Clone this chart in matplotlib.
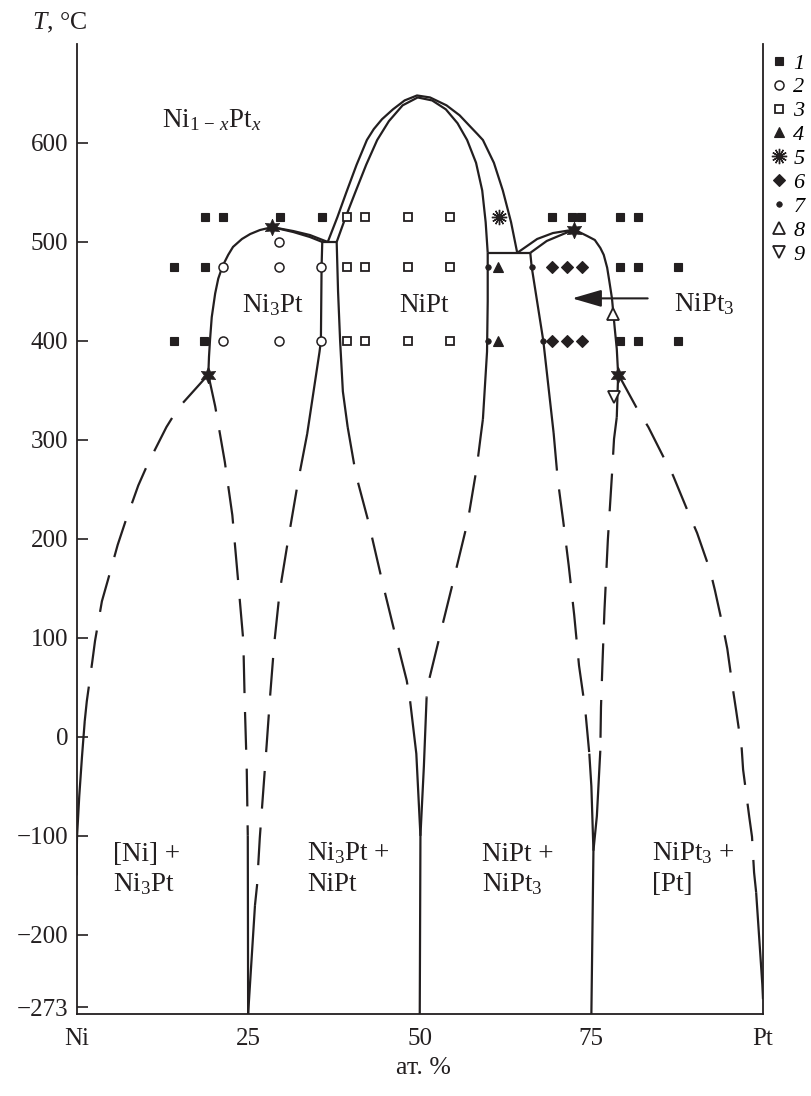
import matplotlib
matplotlib.use('Agg')
import matplotlib.pyplot as plt

plt.rcParams['font.family'] = ['Liberation Serif', 'DejaVu Serif']
plt.rcParams['mathtext.fontset'] = 'custom'
plt.rcParams['mathtext.rm'] = 'Liberation Serif'
plt.rcParams['mathtext.it'] = 'Liberation Serif:italic'
plt.rcParams['mathtext.bf'] = 'Liberation Serif:bold'

INK = '#231f20'
T_MIN, T_MAX = -280, 700

# ---- phase boundaries: x = at.% Pt, T = deg C ----
# Ni3Pt dome
ni3pt_left_x = [19.2, 19.3, 19.45, 19.7, 20.2, 20.65, 21.3, 22.1, 22.8, 24.1,
                25.3, 26.7, 28.5]
ni3pt_left_t = [366, 384, 401, 424, 448, 463, 476, 487, 495, 503,
                508, 512, 515]
ni3pt_top_up_x = [28.5, 31.6, 34.0, 36.6]
ni3pt_top_up_t = [515, 511, 507, 500]
ni3pt_top_lo_x = [28.5, 31.6, 34.0, 35.8]
ni3pt_top_lo_t = [515, 510, 505, 500]
tie_left_x = [35.8, 37.9]
tie_left_t = [500, 500]

# NiPt dome (outer and inner line)
nipt_outer_x = [36.6, 38.0, 39.3, 40.8, 42.3, 43.3, 44.5, 46.1, 47.8, 49.6,
                51.5, 53.9, 55.8, 57.3, 58.4, 59.2, 60.8, 62.1, 63.3, 64.2]
nipt_outer_t = [500, 525, 550, 578, 603, 614, 624, 634, 643, 648,
                646, 638, 628, 617, 609, 603, 580, 552, 520, 489]
nipt_inner_x = [37.9, 39.2, 40.6, 42.2, 43.8, 45.5, 47.5, 49.7, 51.8, 53.8,
                55.5, 56.9, 58.2, 59.1, 59.6, 59.9]
nipt_inner_t = [500, 525, 550, 578, 603, 622, 638, 646, 643, 634,
                620, 603, 580, 552, 520, 489]
tie_right_x = [59.9, 66.1]
tie_right_t = [489, 489]

# NiPt3 dome
nipt3_top_up_x = [64.2, 67.1, 69.4, 72.5]
nipt3_top_up_t = [489, 503, 509, 512.5]
nipt3_top_lo_x = [66.1, 68.5, 70.9, 72.5]
nipt3_top_lo_t = [489, 501, 508, 512.5]
nipt3_right_x = [72.5, 74.4, 75.5, 76.3, 76.8, 77.3, 77.6, 78.0, 78.4, 78.7,
                 78.9, 78.7]
nipt3_right_t = [512.5, 506, 502, 494, 487, 474, 461, 443, 413, 392,
                 366, 323]

# boundaries going down to -273 (solid top / dashed middle / solid bottom)
a_dash_x = [19.2, 14.8, 13.1, 10.4, 9.0, 7.1, 6.0, 4.6, 3.7, 2.7, 2.3, 1.5, 1.2]
a_dash_t = [366, 332, 313, 276, 254, 217, 194, 159, 137, 97, 76, 36, 16]
a_low_x = [1.2, 0.8, 0.4, 0.07, 0.0]
a_low_t = [16, -20, -60, -102, -140]

b_dash_x = [19.2, 20.2, 21.6, 22.7, 23.5, 24.3, 24.5, 24.8, 24.95]
b_dash_t = [366, 334, 278, 224, 161, 97, 36, -33, -100]
b_low_x = [24.95, 25.0]
b_low_t = [-100, T_MIN]

c_top_x = [35.8, 35.7, 35.6, 35.4, 33.6]
c_top_t = [500, 475, 400, 389, 306]
c_dash_x = [33.6, 32.3, 30.8, 29.6, 28.8, 28.2, 27.7, 27.2, 26.7, 26.3, 26.0]
c_dash_t = [306, 259, 198, 147, 94, 41, -8, -55, -102, -150, -170]
c_low_x = [26.0, 25.5, 25.0]
c_low_t = [-170, -225, T_MIN]

d_top_x = [37.9, 38.1, 38.4, 38.8, 39.5]
d_top_t = [500, 450, 400, 349, 313]
d_dash_x = [39.5, 40.7, 42.5, 44.6, 46.4, 48.1, 48.6]
d_dash_t = [313, 265, 218, 155, 104, 57, 36]
d_low_x = [48.6, 49.5, 50.1]
d_low_t = [36, -17, -100]

e_top_x = [59.9, 59.9, 59.8, 59.2]
e_top_t = [489, 440, 389, 321]
e_dash_x = [59.2, 58.9, 58.3, 57.0, 54.8, 53.2, 51.3, 51.0]
e_dash_t = [321, 305, 272, 218, 155, 110, 56, 40]
e_low_x = [51.0, 50.6, 50.1, 50.0]
e_low_t = [40, -30, -100, T_MIN]

f_top_x = [66.1, 66.3, 68.0, 69.5]
f_top_t = [489, 475, 400, 307]
f_dash_x = [69.5, 70.1, 70.9, 71.7, 72.5, 73.2, 74.1, 74.7]
f_dash_t = [307, 260, 218, 173, 123, 72, 28, -17]
f_low_x = [74.7, 75.0, 75.3, 75.0]
f_low_t = [-17, -50, -115, T_MIN]

g_dash_x = [78.7, 78.3, 78.0, 77.4, 76.9, 76.6, 76.4, 76.3]
g_dash_t = [323, 301, 265, 199, 127, 71, 30, -14]
g_low_x = [76.3, 75.8, 75.3]
g_low_t = [-14, -80, -115]

h_dash_x = [78.9, 79.5, 81.7, 83.3, 85.7, 86.9, 89.1, 90.4, 92.3, 93.0,
            94.2, 94.8, 95.6, 96.1, 96.9, 97.1, 98.0, 98.4, 98.7, 99.0]
h_dash_t = [366, 359, 331, 313, 280, 264, 227, 206, 168, 148,
            110, 89, 49, 26, -12, -33, -81, -101, -137, -157]
h_low_x = [99.0, 99.9, 100.0]
h_low_t = [-157, -250, -265]

# special points on the curves
star_x = [19.2, 28.5, 72.5, 78.9]
star_t = [366, 515, 512.5, 366]

# ---- experimental points, series 1..9 ----
p1_x = [18.7, 21.3, 29.6, 35.8, 69.3, 72.2, 73.5, 79.2, 81.8,
        14.2, 18.7, 79.2, 81.8, 87.6,
        14.2, 18.6, 79.2, 81.8, 87.6]
p1_t = [525] * 9 + [475] * 5 + [400] * 5
p2_x = [21.3, 29.5, 29.5, 35.6, 21.3, 29.5, 35.6]
p2_t = [475, 500, 475, 475, 400, 400, 400]
p3_x = [39.4, 42.0, 48.3, 54.4] * 3
p3_t = [525] * 4 + [475] * 4 + [400] * 4
p4_x = [61.4, 61.4]
p4_t = [475, 400]
p5_x = [61.5]
p5_t = [525]
p6_x = [69.3, 71.5, 73.6, 69.3, 71.5, 73.6]
p6_t = [475] * 3 + [400] * 3
p7_x = [59.9, 66.3, 59.9, 67.9]
p7_t = [475, 475, 400, 400]
p8_x = [78.2]
p8_t = [427]
p9_x = [78.3]
p9_t = [343]

series_labels = ['1', '2', '3', '4', '5', '6', '7', '8', '9']
t_ticks = [600, 500, 400, 300, 200, 100, 0, -100, -200, -273]
x_ticks = [0, 25, 50, 75, 100]
x_tick_labels = ['Ni', '25', '50', '75', 'Pt']


def main():
    fig = plt.figure(figsize=(8.11, 10.96), dpi=100)
    W, H = 811, 1096
    ax = fig.add_axes([76.5 / W, (H - 1014) / H, (763 - 76.5) / W, (1014 - 44) / H])
    ax.set_xlim(0, 100)
    ax.set_ylim(T_MIN, T_MAX)

    solid = dict(color=INK, lw=1.6, solid_capstyle='butt', solid_joinstyle='round',
                 zorder=2)
    dashed = dict(color=INK, lw=1.6, ls=(0, (17, 8.5)), dash_capstyle='butt', zorder=2)

    for xs, ts in [(ni3pt_left_x, ni3pt_left_t), (ni3pt_top_up_x, ni3pt_top_up_t),
                   (ni3pt_top_lo_x, ni3pt_top_lo_t), (tie_left_x, tie_left_t),
                   (nipt_outer_x, nipt_outer_t), (nipt_inner_x, nipt_inner_t),
                   (tie_right_x, tie_right_t), (nipt3_top_up_x, nipt3_top_up_t),
                   (nipt3_top_lo_x, nipt3_top_lo_t), (nipt3_right_x, nipt3_right_t),
                   (a_low_x, a_low_t), (b_low_x, b_low_t),
                   (c_top_x, c_top_t), (c_low_x, c_low_t),
                   (d_top_x, d_top_t), (d_low_x, d_low_t),
                   (e_top_x, e_top_t), (e_low_x, e_low_t),
                   (f_top_x, f_top_t), (f_low_x, f_low_t),
                   (g_low_x, g_low_t), (h_low_x, h_low_t)]:
        ax.plot(xs, ts, **solid)
    for xs, ts in [(a_dash_x, a_dash_t), (b_dash_x, b_dash_t), (c_dash_x, c_dash_t),
                   (d_dash_x, d_dash_t), (e_dash_x, e_dash_t), (f_dash_x, f_dash_t),
                   (g_dash_x, g_dash_t), (h_dash_x, h_dash_t)]:
        ax.plot(xs, ts, **dashed)

    ax.plot(star_x, star_t, ls='none', marker=(6, 1, 0), ms=12, mfc=INK, mec=INK,
            mew=0.5, zorder=4)

    # experimental points
    styles = [
        dict(marker='s', ms=5.5, mfc=INK, mec=INK, mew=0.8),
        dict(marker='o', ms=6.5, mfc='white', mec=INK, mew=1.1),
        dict(marker='s', ms=5.5, mfc='white', mec=INK, mew=1.3),
        dict(marker='^', ms=7.5, mfc=INK, mec=INK, mew=0.8),
        dict(marker=(12, 2, 0), ms=11, mfc=INK, mec=INK, mew=1.0),
        dict(marker='D', ms=6.5, mfc=INK, mec=INK, mew=0.8),
        dict(marker='o', ms=4, mfc=INK, mec=INK, mew=0.5),
        dict(marker='^', ms=8, mfc='white', mec=INK, mew=1.3),
        dict(marker='v', ms=8, mfc='white', mec=INK, mew=1.3),
    ]
    points = [(p1_x, p1_t), (p2_x, p2_t), (p3_x, p3_t), (p4_x, p4_t), (p5_x, p5_t),
              (p6_x, p6_t), (p7_x, p7_t), (p8_x, p8_t), (p9_x, p9_t)]
    handles = []
    for (xs, ts), st in zip(points, styles):
        h, = ax.plot(xs, ts, ls='none', zorder=5, **st)
        handles.append(h)

    ax.legend(handles, series_labels, loc='upper left',
              bbox_to_anchor=(771 / W, 1 - 53 / H), bbox_transform=fig.transFigure,
              frameon=False, handlelength=0.7, handletextpad=0.3,
              labelspacing=0.15, borderpad=0, borderaxespad=0,
              prop=dict(family='Liberation Serif', style='italic', size=16))

    # arrow pointing into the NiPt3 field
    ax.annotate('', xy=(72.2, 443), xytext=(83.2, 443),
                arrowprops=dict(arrowstyle='-|>,head_length=1.2,head_width=0.35',
                                mutation_scale=15, lw=1.5, color=INK,
                                shrinkA=0, shrinkB=0))

    # region labels
    fs = 19.5
    labels = [
        (12.5, 616, 'Ni$_{1\\,-\\,x}$Pt$_x$', 'left'),
        (28.6, 429, 'Ni$_3$Pt', 'center'),
        (50.6, 429, 'NiPt', 'center'),
        (87.0, 430, 'NiPt$_3$', 'left'),
        (5.3, -125, '[Ni] +', 'left'), (5.3, -156, 'Ni$_3$Pt', 'left'),
        (33.6, -125, 'Ni$_3$Pt +', 'left'), (33.6, -156, 'NiPt', 'left'),
        (59.1, -125, 'NiPt +', 'left'), (59.1, -156, 'NiPt$_3$', 'left'),
        (83.8, -125, 'NiPt$_3$ +', 'left'), (83.8, -156, '[Pt]', 'left'),
    ]
    for x, t, s, ha in labels:
        ax.text(x, t, s, ha=ha, va='baseline', fontsize=fs, color=INK, zorder=6)

    # axes frame and ticks
    ax.spines['top'].set_visible(False)
    for side in ('left', 'right', 'bottom'):
        ax.spines[side].set_linewidth(1.3)
        ax.spines[side].set_color(INK)
    ax.set_yticks(t_ticks)
    ax.tick_params(axis='y', direction='in', length=8, width=1.2, pad=6,
                   labelsize=18, colors=INK)
    ax.set_xticks(x_ticks)
    ax.set_xticklabels(x_tick_labels)
    ax.tick_params(axis='x', length=0, pad=10, labelsize=18, colors=INK)

    fig.text(60 / W, 1 - 23 / H, '$T$, °C', ha='center', va='center',
             fontsize=18.5, color=INK)
    fig.text(423 / W, 1 - 1068 / H, 'ат. %', ha='center', va='center',
             fontsize=18.5, color=INK)

    fig.savefig('out.png', dpi=100)


if __name__ == '__main__':
    main()
